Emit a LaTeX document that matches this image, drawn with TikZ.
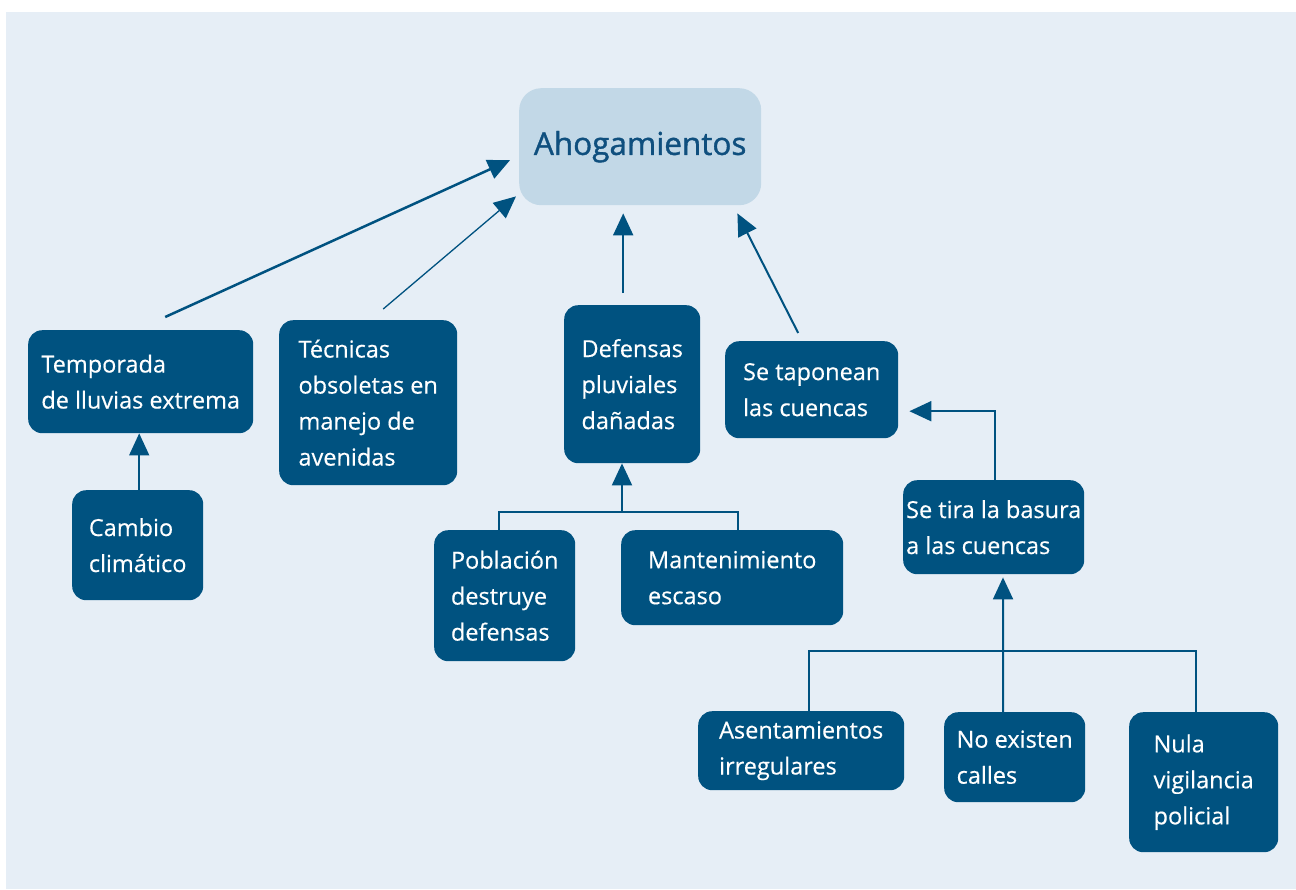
\documentclass[tikz,border=0pt]{standalone}
\usepackage{fontspec}
\setmainfont{Open Sans}[FakeBold=0.4]
\newfontfamily\titulofont{Open Sans}[FakeBold=1.2]
\usetikzlibrary{arrows.meta}
\definecolor{azul}{HTML}{005280}
\definecolor{fondo}{HTML}{E6EEF6}
\definecolor{celeste}{HTML}{C2D8E7}
\definecolor{titulo}{HTML}{0F4F7E}
\tikzset{
  caja/.style={rounded corners=14pt, fill=azul, text=white, align=left,
    inner sep=0pt, anchor=north west, font=\fontsize{23.5}{36}\selectfont},
  flecha/.style={draw=azul, line width=2pt, -{Triangle[length=22pt,width=20pt]}},
  linea/.style={draw=azul, line width=1.5pt}
}
\begin{document}
\begin{tikzpicture}[x=1pt, y=-1pt]
  \useasboundingbox (0,0) rectangle (1296,889);
  \fill[fondo] (6,12) rectangle (1296,889);
  % problema central
  \node[rounded corners=22pt, fill=celeste, text=titulo, inner sep=0pt, anchor=north west,
    minimum width=242pt, minimum height=117pt, font=\titulofont\fontsize{31.5}{36}\selectfont]
    (ahog) at (519,88) {Ahogamientos};
  % causas
  \node[caja, minimum width=225pt, minimum height=103pt] (temp) at (28,330) {Temporada\\de lluvias extrema};
  \node[caja, minimum width=131pt, minimum height=110pt] (cambio) at (72,490) {Cambio\\climático};
  \node[caja, minimum width=178pt, minimum height=165pt] (tec) at (279,320) {Técnicas\\obsoletas en\\manejo de\\avenidas};
  \node[caja, minimum width=136pt, minimum height=158pt] (def) at (564,305) {Defensas\\pluviales\\dañadas};
  \node[caja, minimum width=173pt, minimum height=97pt] (tap) at (725,341) {Se taponean\\las cuencas};
  \node[caja, minimum width=141pt, minimum height=131pt] (pob) at (434,530) {Población\\destruye\\defensas};
  \node[caja, minimum width=222pt, minimum height=95pt] (mant) at (621,530) {Mantenimiento\\escaso};
  \node[caja, minimum width=181pt, minimum height=94pt] (tira) at (903,480) {Se tira la basura\\a las cuencas};
  \node[caja, minimum width=206pt, minimum height=79pt] (asen) at (698,711) {Asentamientos\\irregulares};
  \node[caja, minimum width=141pt, minimum height=90pt] (noex) at (944,712) {No existen\\calles};
  \node[caja, minimum width=149pt, minimum height=140pt] (nula) at (1129,712) {Nula\\vigilancia\\policial};
  \coordinate (jdef) at (622,512);
  \coordinate (jtira) at (1003,651);
  % flechas
  \draw[flecha, line width=2.5pt] ([xshift=24.5pt,yshift=13pt]temp.north) -- ([xshift=-9pt,yshift=-13.5pt]ahog.west);
  \draw[flecha, line width=1.3pt] ([xshift=15pt,yshift=11pt]tec.north) -- ([xshift=-3pt,yshift=9pt]ahog.south west);
  \draw[flecha] ([xshift=-9pt,yshift=12pt]def.north) -- ([xshift=-17pt,yshift=-8pt]ahog.south);
  \draw[flecha] ([xshift=-13.5pt,yshift=8pt]tap.north) -- ([xshift=-24pt,yshift=-8pt]ahog.south east);
  \draw[flecha, line width=1.5pt] ([xshift=1.5pt]cambio.north) -- ([xshift=1.5pt]cambio.north |- temp.south);
  \draw[flecha] ([xshift=1.5pt]tira.north) |- ([xshift=11pt,yshift=-21.5pt]tap.east);
  \draw[linea] ([xshift=-5.5pt]pob.north) |- (jdef) -| ([xshift=6pt]mant.north);
  \draw[flecha] (jdef) -- (jdef |- def.south);
  \draw[linea] ([xshift=8pt]asen.north) |- (jtira) -| ([xshift=-7.5pt]nula.north);
  \draw[flecha] ([xshift=-11.5pt]noex.north) -- ([yshift=-3pt]jtira |- tira.south);
\end{tikzpicture}
\end{document}
